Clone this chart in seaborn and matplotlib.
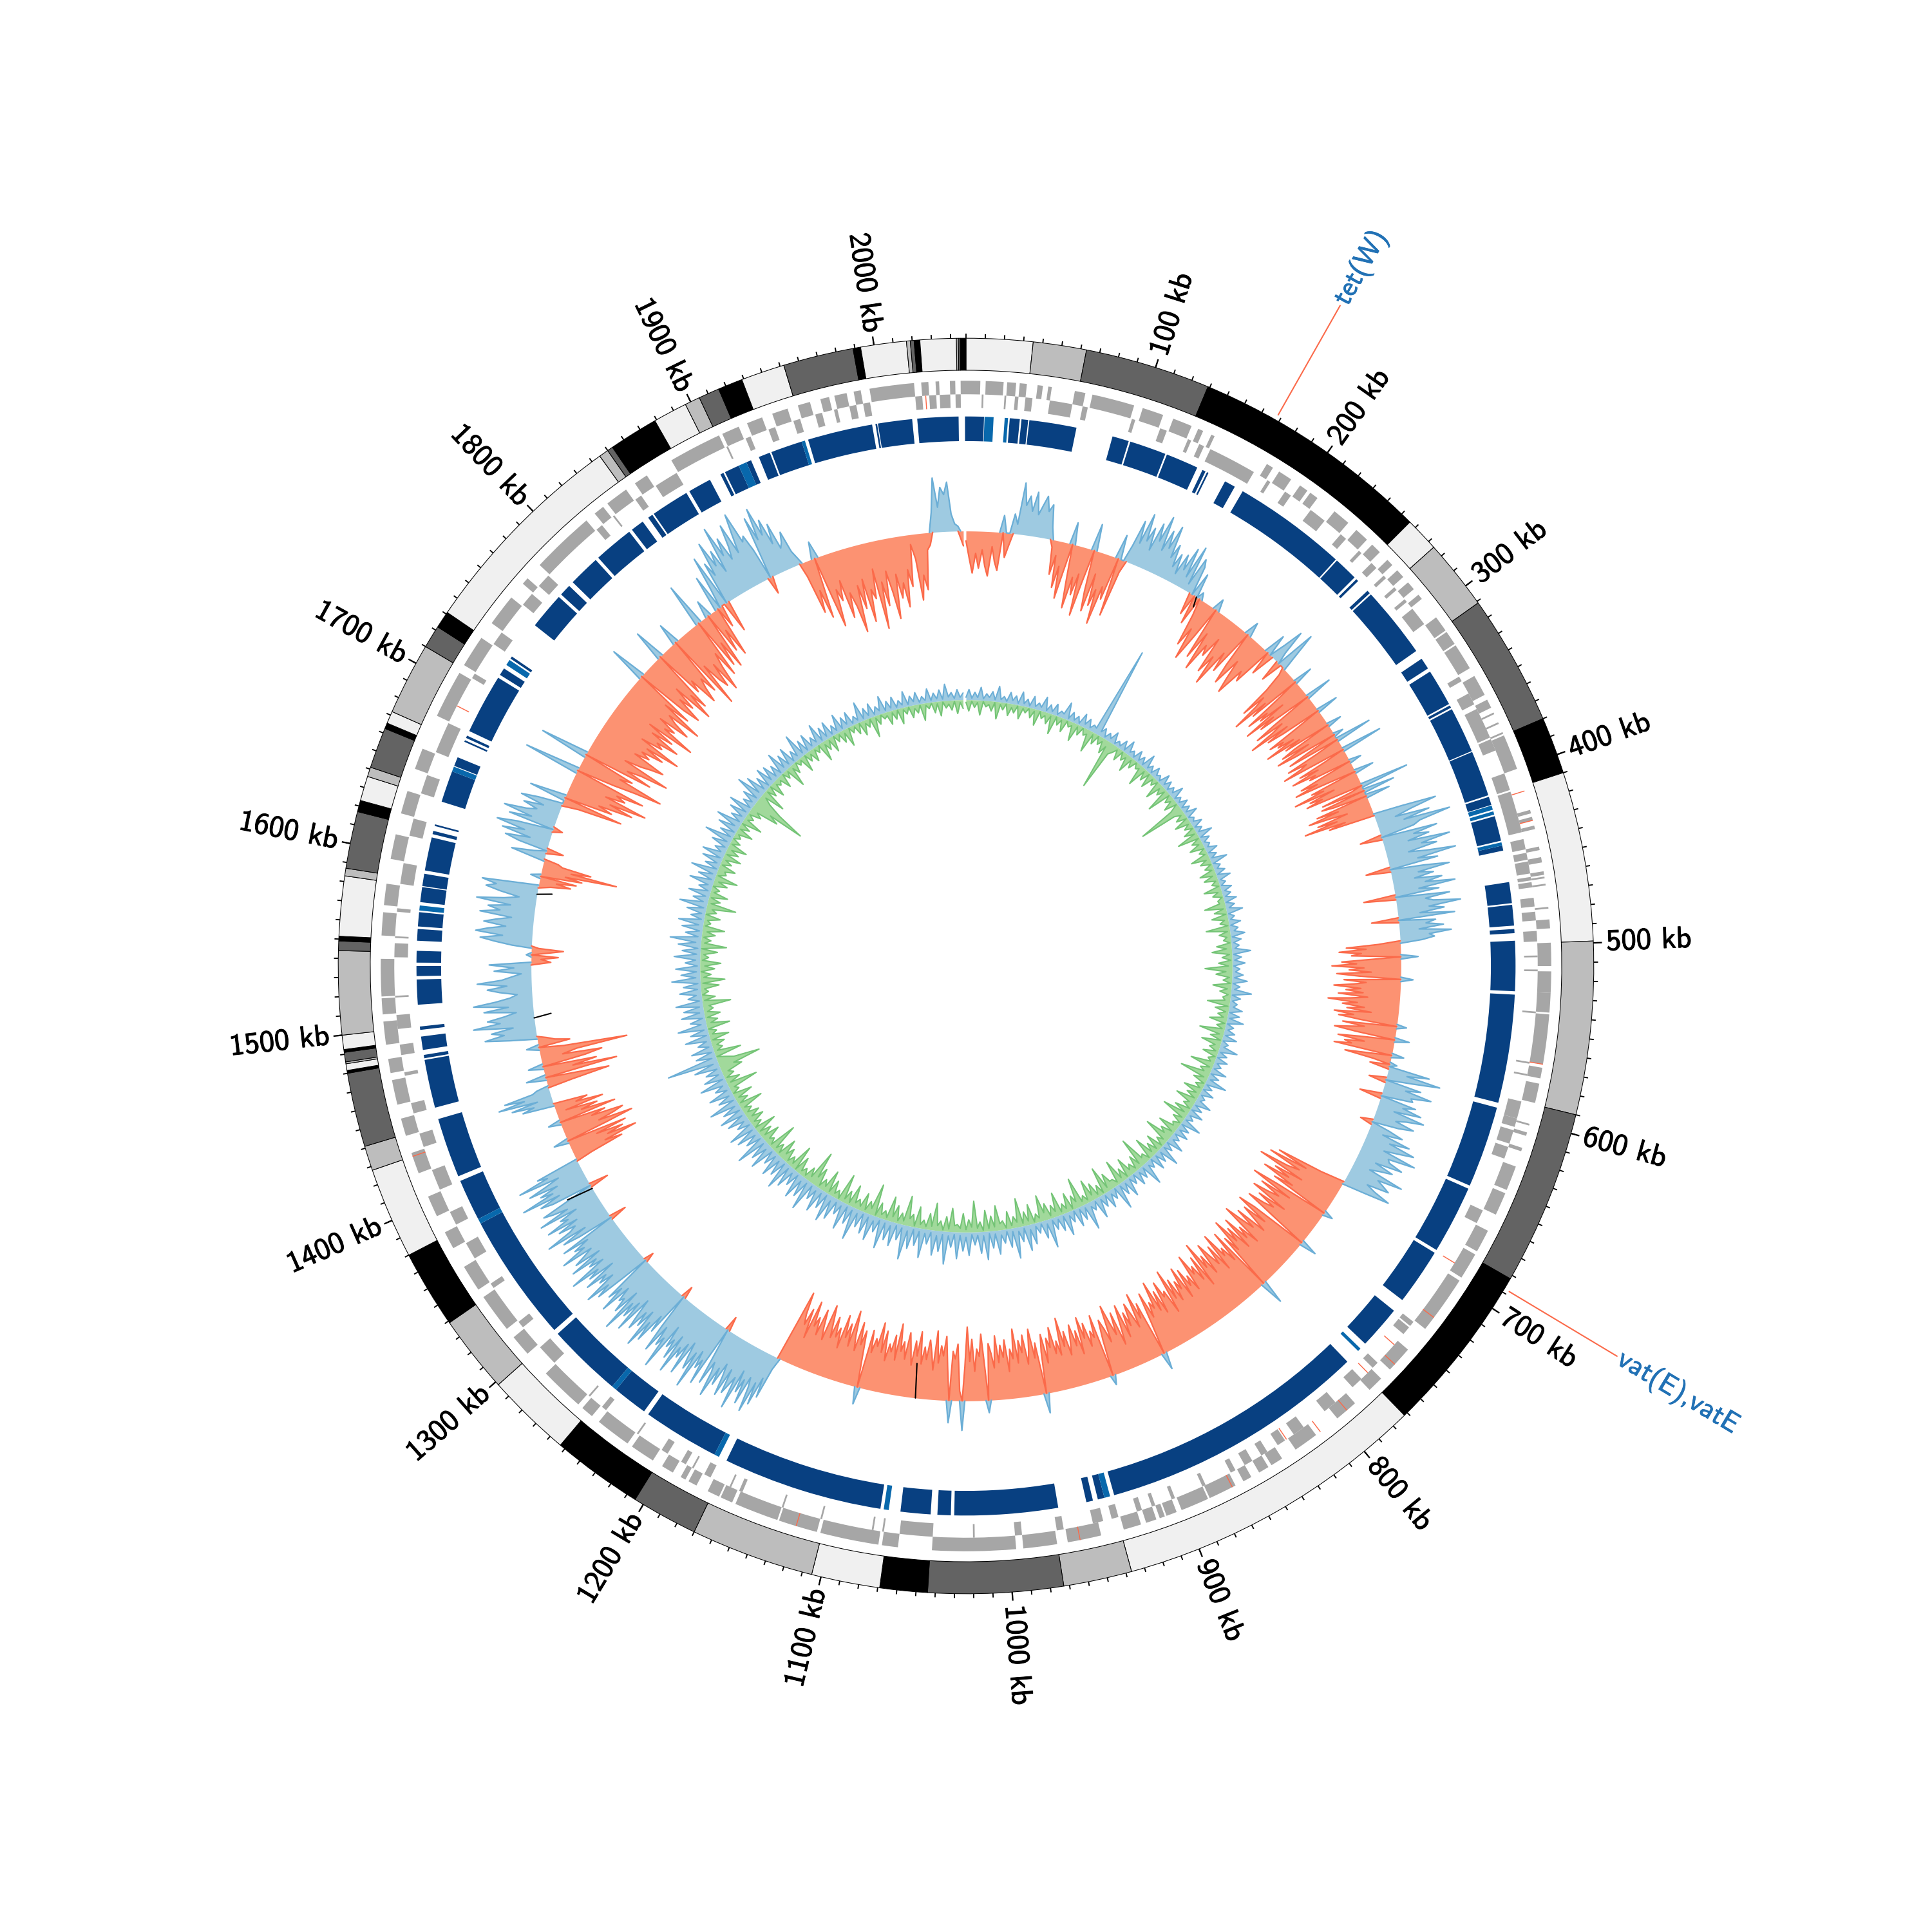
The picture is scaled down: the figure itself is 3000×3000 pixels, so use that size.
import numpy as np
import pandas as pd
import matplotlib
matplotlib.use("Agg")
import matplotlib.pyplot as plt
import matplotlib.patheffects as pe
import seaborn as sns

# genome length in kb, tracks read clockwise from the top
genome_kb = 2048
label_kb = [100, 200, 300, 400, 500, 600, 700, 800, 900, 1000, 1100, 1200, 1300, 1400, 1500, 1600, 1700, 1800, 1900, 2000]

# contig blocks: end of each block in kb and its grey level
contig_ends = [35, 63, 129, 256, 274, 311, 380, 410, 499, 590, 682, 772, 937, 973, 1044, 1069, 1105, 1170, 1205, 1253,
               1298, 1339, 1380, 1428, 1441, 1480, 1481.5, 1485, 1486, 1491, 1492.5, 1500, 1544, 1549, 1551.5, 1583, 1587, 1617, 1623,
               1636, 1641, 1662.5, 1665.5, 1672, 1710, 1722, 1731, 1845, 1850, 1853, 1879, 1897, 1905, 1916, 1929, 1952, 1989,
               1993, 2017, 2019, 2021, 2024, 2043, 2044, 2045, 2048]
contig_shade = [0, 1, 2, 3, 0, 1, 2, 3, 0, 1, 2, 3, 0, 1, 2, 3, 0, 1, 2, 3,
                0, 1, 3, 0, 1, 2, 3, 0, 1, 2, 3, 0, 1, 2, 3, 0, 1, 2, 3,
                0, 1, 2, 3, 0, 1, 2, 3, 0, 1, 2, 3, 0, 1, 2, 3, 0, 2,
                3, 0, 1, 2, 3, 0, 1, 2, 3]

# gene blocks in the two rows of the grey track
genes_outer = [(0, 8), (11, 21), (23, 28), (30, 34), (40, 43), (46, 48), (61, 67), (71, 95), (100, 112), (118, 129),
               (133, 136), (141, 143), (176, 180), (184, 192), (198, 203), (205, 210), (222, 232), (238, 246), (250, 256),
               (262, 266), (270, 275), (279, 284), (288, 291), (304, 313), (314, 322), (323, 338), (343, 355), (358, 363),
               (366, 367), (372, 373), (378, 379), (380, 400), (424, 426), (428, 430), (433, 435), (445, 447), (451, 454),
               (459, 461), (462, 463), (466, 467), (479, 480), (486, 491), (499, 512), (515, 527), (527, 538), (539, 567),
               (569, 575), (578, 589), (601, 602), (606, 608), (615, 617), (626, 640), (642, 655), (665, 678), (680, 695),
               (697, 730), (745, 760), (767, 776), (787, 800), (815, 829), (838, 845), (847, 853), (858, 863), (868, 884),
               (885, 901), (904, 910), (911, 914), (916, 922), (925, 935), (948, 967), (973, 992), (996, 1043), (1062, 1071),
               (1073, 1106), (1108, 1130), (1131, 1156), (1158, 1165), (1166, 1173), (1180, 1185), (1187, 1190), (1195, 1202),
               (1208, 1222), (1225, 1245), (1250, 1257), (1260, 1285), (1300, 1312), (1318, 1340), (1345, 1360), (1372, 1382),
               (1392, 1404), (1418, 1430), (1440, 1450), (1458, 1472), (1476, 1484), (1492, 1505), (1509, 1518), (1519, 1540),
               (1553, 1566), (1570, 1582), (1596, 1610), (1622, 1635), (1648, 1660), (1680, 1707), (1712, 1730), (1740, 1758),
               (1768, 1772), (1782, 1818), (1824, 1830), (1833, 1846), (1852, 1860), (1876, 1906), (1908, 1918), (1923, 1932),
               (1938, 1947), (1953, 1960), (1966, 1971), (1974, 1981), (1985, 1989), (1994, 2019), (2023, 2027), (2031, 2033),
               (2039, 2042), (2045, 2048)]
genes_inner = [(9, 10), (22, 23), (28, 30), (34, 38), (48, 61), (67, 70), (96, 98), (113, 117), (130, 132), (137, 140),
               (144, 172), (181, 183), (193, 197), (211, 221), (233, 237), (247, 249), (257, 261), (267, 269), (276, 278),
               (285, 287), (292, 303), (339, 342), (350, 357), (360, 378), (379, 386), (400, 410), (411, 435), (439, 445),
               (447, 451), (452, 459), (461, 463), (464, 467), (473, 478), (481, 486), (492, 498), (506, 507), (514, 515),
               (538, 539), (567, 568), (574, 575), (590, 600), (600, 605), (607, 615), (617, 624), (656, 664), (731, 734),
               (735, 740), (762, 766), (775, 782), (795, 803), (818, 825), (831, 836), (843, 847), (853, 858), (864, 867),
               (883, 885), (902, 904), (914, 916), (922, 925), (936, 940), (945, 951), (968, 972), (992, 996), (1019, 1020),
               (1043, 1062), (1071, 1072), (1077, 1078), (1107, 1108), (1130, 1131), (1155, 1157), (1162, 1163), (1175, 1179),
               (1186, 1187), (1191, 1194), (1203, 1207), (1223, 1224), (1246, 1249), (1258, 1259), (1286, 1298), (1313, 1317),
               (1341, 1344), (1361, 1371), (1383, 1391), (1405, 1417), (1431, 1439), (1451, 1457), (1473, 1475), (1485, 1491),
               (1500, 1508), (1518, 1519), (1541, 1549), (1552, 1553), (1567, 1569), (1583, 1595), (1611, 1621), (1636, 1647),
               (1661, 1679), (1708, 1711), (1731, 1739), (1759, 1767), (1773, 1781), (1819, 1823), (1831, 1832), (1847, 1851),
               (1861, 1875), (1907, 1908), (1919, 1922), (1933, 1937), (1948, 1952), (1961, 1965), (1972, 1974), (1981, 1985),
               (1989, 1993), (2019, 2023), (2027, 2031), (2033, 2039), (2042, 2045)]
genes_red_outer = [413, 430, 567, 722, 756, 793, 812, 870, 960, 1120, 1428]
genes_red_inner = [690, 748, 770, 830, 1690, 2025]

# dark blue track: segments in kb
blast_dark = [(0, 10.7), (26, 32), (33, 37), (37.7, 66), (88, 98), (99, 121), (122, 141.6), (145, 147), (148, 149), (160, 166.6),
              (172, 240.6), (241.5, 256), (257.5, 259), (267, 269), (270, 313), (318.6, 325.5), (327.7, 350), (351, 352.5), (353.5, 381),
              (381.6, 409), (410, 415), (422, 437), (440, 443), (462, 474.6), (475.6, 488), (490, 492.5), (497, 527), (529, 594),
              (597, 646), (648, 689), (691, 725), (733, 759), (774, 935), (941, 945), (948, 952), (969, 1031), (1033, 1041),
              (1045, 1063), (1075, 1171), (1179, 1225), (1228, 1249), (1252, 1297), (1300, 1377), (1380, 1405), (1408, 1444), (1451, 1480),
              (1481, 1483), (1486, 1494), (1498, 1500), (1513, 1528), (1530, 1536), (1538, 1545), (1551, 1558), (1559.5, 1568), (1574, 1583),
              (1583.6, 1591), (1593, 1613), (1615, 1617), (1620, 1621), (1635, 1654), (1657.5, 1663), (1673, 1674), (1675.5, 1677), (1680, 1716),
              (1718, 1722.5), (1729.5, 1731), (1754, 1776), (1778, 1785), (1788, 1807), (1809, 1833), (1835, 1843), (1847, 1850), (1851, 1874),
              (1876, 1890), (1897, 1899), (1900, 1909), (1914, 1917), (1922, 1929), (1930, 1949), (1953, 1992), (1994, 1995), (1995.5, 2016),
              (2019, 2043.6), (2047.4, 2048)]
blast_mid = [(11, 16.4), (23, 25), (415.4, 418), (419, 421), (438, 440), (763, 765), (937.5, 941), (1070, 1073), (1176, 1179), (1249, 1252),
             (1377, 1380), (1569, 1572), (1654, 1657), (1725, 1728.5), (1909, 1914), (1949, 1951)]

# GC content track: per region start, end and deviation from the ring (outward positive)
gc_regions_start = [0, 38, 66, 123, 176, 187, 255, 270, 397, 495, 588, 683, 1170, 1386, 1431, 1445, 1483, 1541, 1551, 1597, 1617, 1661, 1850, 1922, 2023, 2042]
gc_regions_end = [38, 66, 123, 176, 187, 255, 270, 397, 495, 588, 683, 1170, 1386, 1431, 1445, 1483, 1541, 1551, 1597, 1617, 1661, 1850, 1922, 2023, 2042, 2048]
gc_0 = [-8, -22, -34, -18, -30, -15, -28, -36, -12, -24, -31, 14, -20, -10, 16]
gc_1 = [8, 42, 24, 32, 20, 36, 18, 26, 34, 22, 28, 10]
gc_2 = [-6, -28, -12, -38, -20, -46, -24, 18, -30, -52, -26, -40, -22, -56, -28, 22, -34, -50, -18, -44, -30, -58, -26, -36, 20, -48, -10]
gc_3 = [14, 36, 18, 44, 22, 34, 16, 40, 26, 48, 20, 38, 24, 44, 18, 30, 12, 24, 8, 26, 14, 34, 10, 38, 6, 30]
gc_4 = [24, -18, 20, -24, 6]
gc_5 = [-14, -40, -24, -50, -30, 10, -44, -20, -52, -28, -36, -18, -48, -32, -56, -24, -40, 12, -30, -46, -22, -38, -50, -26, -34, 18, -20]
gc_6 = [14, 30, 10, -18, 34, 16, -6]
gc_7 = [-22, -48, -28, -38, -60, -30, -44, 16, -24, -52, -34, -42, -20, -58, -32, -46, -26, 22, -36, -54, -30, -40, -62, -28, -48, -34, 18, -24, -50, -38,
        -44, -30, -56, -26, -40, 12, -34, -46, -22, -52, -36, 8, -28, -44, 30, -20, -48, -32, -38, -54, 34, -18, -42, -26, -50, -30, -36, 10, -28, -46, -32, -52,
        -24, 16, -40, -30, -56, -22, -44, -34, -48, 40, -10, -36, 26, -38, -28, 20, -44, -26, -52, -34, -20, -46, -30, -58, -24, -38]
gc_8 = [24, 52, 30, 16, 44, 22, 60, 34, 28, -18, 46, 26, 38, 20, 54, 30, 42, 18, 32, 56, 24, 40, -20, 28, 48, 22, 34, 18, 40, 26, 50, 20, 36, -26, 44, 24, 30, 52,
        26, 38, 18, 46, -22, 30, 22, 36, 16, 42, 24, 28, 18]
gc_9 = [-18, -44, -28, -50, -32, -40, 14, -26, -48, -36, -56, -30, -42, -24, -52, -34, 10, -46, -28, -38, -54, -32, -44, -30, -50, -26, -40, -58, -34, -46, -28, -42,
        -22, -52, -36, -48, -30, 8, -44, -26, -38, -50, -32, 12, -28, -46, -24, -40, -34, -48, 10, -20, -38, -14, 6]
gc_10 = [-16, 34, 16, 44, 22, -14, 30, 18, 40, 24, 26, -18, 30, 20, 36, 14, 40, 26, 18, 34, 22, -10, 16, 28, 12, 36, 20, 42, 30, 18, 46, 24, 26, 38, 16, 32, 22, 14, 44, 24, 30, 36, 18, 26, 40, 20]
gc_11 = [-20, -58, -32, -64, -36, -46, -70, -30, -54, -40, -62, -34, -50, 8, -44, -66, -30, -56, -38, -48, -60, -28, -52, -36, -44, -58, -32, 14, -48, -62, -34, -54, -42, -30, -56, -38,
         -50, -64, -28, -46, -36, -58, -30, -52, -40, -62, -34, -48, 20, -56, -30, -44, -38, -60, -28, -52, -36, -46, -58, -32, -50, -40, -64, -26, -54, -34, -48, -42, -60, -30, -44, -36, -52,
         -28, -56, -38, -46, -30, -50, -34, -60, -24, -44, -40, -54, -28, -48, -32, -58, -36, -42, -30, -52, -26, 14, -46, -34, -56, -28, -40, -50, -32, -44, -24, -52, -36, -20, -48, -30, -42,
         -56, -26, -38, -46, -30, 8, -52, -34, -40, -28, -48, -36, -54, -24, -44, -32, -50, -38, -26, -46, -34, -58, -28, -40, -30, -52, -36, -44, -24, -48, -34, 16, -42, -30, -54, -38, -26, -50,
         -36, -46, -28, -56, -32, -40, -22, -48, -34, -44, -30, -52, -26, -38, -46, 10, -30, -54, -36, -42, -24, -50, -32, -60, -28, 24, -8, -46, -34, -40, 18, -26, -52, -36, -44, -30, -56, -24,
         -38, -48, -32, -42, -28, -54, -34, -46, -26, -40, -52, -30, -44, -36, -58, -28, -48, -34, -40, -26, -50, -32, -56, -36, -42, -30, -48, 14, -24, -46, -34, -52, -28, -40, -60, -30, -48, -36,
         -54, -26, -42, -34, -50, -32, -46, -58, -28, -38, -52, -30, -44, -36, -56, -24, -48, -34, -42, -60, -32]
gc_12 = [10, 36, 20, 44, 26, 52, 32, 24, 48, 28, 40, 22, 56, 30, 38, 46, 26, 50, 34, 24, 44, 30, 56, 36, 28, 48, 22, -12, 52, 32, 40, 26, 60, 30, 46, 36, 24, 54, 28, 42, 34, 58, 26, 48, 32, 40, 22, 62, 36, 44, 28,
         52, 30, -10, 38, 24, 50, 34, 58, 26, 42, 30, 48, 36, 22, 54, 28, 44, 32, 60, 24, 46, 34, 38, 26, 52, 30, 42, -8, 24, 48, 36, 56, 28, 40, 32, 50, 22, 44, 34, 58, 26, 38, 30, 52, 24, 46, 36, 28, 54, 32, 40, 26, 48,
         -14, 30, 44, 22, 56, 34, 28, 42, 24, 50, 30, 36, 20, 52, 26, 38, 46, 22, -16, 34, 44, 26, 58, 30, 40, 24, 48, 32, 20, 54, 28, 36]
gc_13 = [-14, -42, -28, -56, -32, -46, -24, -50, 12, -36, -58, -30, -44, -52, -26, -38, 10, -48, -20, -34, -8, -40, -18, -28]
gc_14 = [26, 16, 34, 12, 44, 22, 38, 14, 10]
gc_15 = [-20, -52, -28, 16, -60, -24, -44, 12, -36, -50, -18, -30, -72, -20, 10, -26, -14, -8]
gc_16 = [22, 42, 26, 36, 18, 50, 28, 38, 24, 14, 40, 20, 48, 30, 18, 12, 26, 36, 20, 44, 24, 16, 8, 30, 14, 34, -16]
gc_17 = [-8, -22, 4, -14, -26, -6]
gc_18 = [16, 30, 42, 24, 46, 36, 22, 40, 30, 18, 44, 28, 38, 20, 48, 26, 14, 30, 42, 34, 46]
gc_19 = [-10, -26, -14, -30, 8, -34, -20, -62, -24, -40, -16, -12]
gc_20 = [12, 28, 10, -14, 24, 36, 16, 40, 22, 46, 30, -8, 38, 20, 44, 26, 18, 30, 14, 34, 20]
gc_21 = [-14, -50, 30, -40, -28, -56, -36, -66, -30, -46, -38, -60, 46, -32, -50, -72, -34, -44, 40, -58, -36, -48, -70, -30, -44, -52, -62, -34, -46, -38, -56, -40, -68, -32, -50, -44, -62, -36, -54, -30, -70, -42, -50,
         -34, -60, -46, -38, -66, -30, -52, 30, -44, -58, -36, -48, -28, -62, -40, -54, 26, -42, -32, -56, -44, -36, -50, 18, -66, -30, -46, -54, -34, -60, -40, -28, -50, 36, -44, -24, -48, 14, -36, -18, -42]
gc_22 = [30, -18, 18, 44, -26, 36, 24, 52, 30, 42, 22, 60, 34, 48, 28, 38, 56, 30, 46, 62, 36, 40, 26, -14, 52, 32, 58, 34, 46, 24, 40, 18, 22, 30, 12, 6]
gc_23 = [-12, -44, -26, -50, 14, -34, -60, -30, -40, -24, -56, -36, -48, -70, -32, -52, -28, -64, -38, -46, -22, -72, -34, -54, -26, -44, -66, -30, -50, -38, -58, -28, -42, -8, -20, -54, -34, -46, -14, -10]
gc_24 = [16, 44, 20, 36, 30, 40, 14, 6]
gc_25 = [4, -6, -12]
gc_regions = [gc_0, gc_1, gc_2, gc_3, gc_4, gc_5, gc_6, gc_7, gc_8, gc_9, gc_10, gc_11, gc_12, gc_13, gc_14, gc_15, gc_16, gc_17, gc_18, gc_19, gc_20, gc_21, gc_22, gc_23, gc_24, gc_25]
gc_black_kb = [182, 1062, 1361, 1497, 1590]
gc_black_value = [-8, -28, 22, -14, -12]

# GC skew track, equally spaced around the genome: outward series and inward series
skew_out = [3, 12, 2, 9, 3, 15, 2, 8, 4, 11, 2, 18, 3, 7, 2, 13, 4, 10, 2, 16, 3, 9, 2, 14,
            3, 8, 4, 17, 2, 10, 3, 13, 2, 7, 5, 20, 2, 11, 3, 9, 2, 15, 4, 12, 3, 8, 6, 108,
            5, 11, 2, 9, 4, 14, 2, 7, 3, 12, 2, 16, 4, 8, 2, 13, 3, 10, 2, 18, 3, 9, 2, 12,
            4, 7, 2, 14, 3, 11, 2, 9, 4, 16, 2, 8, 3, 12, 2, 10, 3, 15, 2, 7, 4, 13, 2, 9,
            3, 18, 2, 11, 3, 8, 4, 14, 2, 10, 3, 20, 2, 9, 4, 12, 2, 16, 3, 8, 2, 13, 4, 10,
            3, 15, 2, 11, 4, 19, 2, 8, 3, 14, 2, 10, 5, 17, 2, 12, 3, 9, 4, 22, 2, 11, 3, 15,
            2, 9, 4, 13, 3, 18, 2, 10, 4, 24, 2, 12, 3, 9, 5, 16, 2, 14, 3, 20, 2, 10, 4, 13,
            3, 17, 2, 9, 5, 22, 3, 12, 2, 15, 4, 10, 3, 19, 2, 13, 4, 25, 3, 11, 2, 16, 3, 9,
            5, 20, 3, 13, 2, 18, 4, 10, 3, 24, 2, 14, 4, 17, 3, 11, 5, 21, 2, 12, 3, 26, 4, 15,
            3, 19, 2, 11, 5, 28, 3, 14, 4, 18, 2, 12, 3, 23, 4, 16, 3, 30, 2, 13, 5, 20, 3, 15,
            4, 25, 3, 12, 6, 32, 4, 17, 3, 22, 2, 14, 5, 27, 3, 19, 4, 15, 3, 34, 5, 21, 3, 13,
            4, 24, 6, 30, 3, 18, 5, 36, 4, 22, 3, 16, 6, 28, 4, 20, 3, 33, 5, 25, 4, 15, 3, 27,
            6, 22, 4, 31, 3, 18, 5, 38, 4, 24, 6, 29, 3, 17, 5, 34, 4, 21, 3, 26, 6, 40, 4, 19,
            3, 28, 5, 23, 4, 35, 3, 18, 6, 30, 4, 25, 3, 20, 5, 38, 4, 22, 3, 32, 5, 17, 4, 27,
            6, 33, 3, 21, 4, 29, 5, 18, 3, 36, 4, 24, 6, 30, 3, 19, 5, 26, 4, 34, 3, 22, 5, 28,
            4, 18, 3, 31, 6, 24, 4, 38, 3, 20, 5, 27, 4, 32, 3, 17, 6, 25, 4, 30, 3, 22, 5, 35,
            3, 20, 5, 28, 4, 17, 6, 32, 3, 24, 5, 19, 4, 30, 6, 60, 5, 23, 3, 26, 4, 16, 5, 29,
            3, 21, 4, 34, 6, 18, 3, 27, 5, 23, 4, 31, 3, 16, 6, 25, 4, 20, 3, 33, 5, 22, 4, 28,
            3, 17, 5, 30, 4, 21, 3, 26, 6, 36, 4, 19, 3, 24, 5, 29, 3, 16, 4, 22, 3, 32, 5, 18,
            4, 25, 3, 15, 5, 28, 3, 20, 4, 31, 2, 17, 4, 23, 3, 26, 5, 14, 3, 21, 4, 33, 3, 18,
            2, 24, 5, 30, 3, 16, 4, 22, 3, 27, 2, 14, 4, 19, 3, 32, 5, 25, 3, 17, 2, 23, 4, 20,
            3, 15, 2, 26, 4, 18, 3, 22, 2, 13, 4, 29, 3, 17, 2, 20, 3, 12, 4, 24, 2, 16, 3, 19,
            2, 11, 3, 21, 2, 14, 4, 17, 2, 9, 3, 23, 2, 13, 3, 16, 2, 10, 4, 20, 2, 12, 3, 15,
            2, 9, 3, 18, 2, 11, 4, 14, 2, 8, 3, 16, 2, 10, 3, 13, 2, 19, 4, 9, 2, 12, 3, 8]
skew_in = [-2, -9, -1, -6, -2, -12, -1, -5, -3, -8, -1, -14, -2, -6, -1, -10, -3, -7, -1, -11, -2, -5, -1, -8,
           -2, -13, -1, -6, -3, -9, -2, -16, -1, -7, -2, -11, -1, -5, -3, -15, -2, -8, -1, -6, -4, -18, -2, -9,
           -1, -7, -3, -12, -5, -41, -9, -6, -2, -10, -1, -7, -3, -14, -2, -8, -1, -5, -3, -17, -2, -9, -1, -12,
           -2, -6, -1, -15, -3, -8, -2, -20, -1, -7, -3, -11, -1, -8, -38, -8, -3, -9, -1, -13, -2, -7, -1, -10,
           -2, -18, -1, -8, -3, -12, -1, -6, -2, -15, -3, -9, -1, -7, -2, -13, -3, -11, -2, -6, -1, -14, -3, -8,
           -1, -5, -4, -17, -2, -10, -1, -13, -3, -7, -1, -19, -2, -9, -3, -6, -1, -12, -4, -16, -2, -8, -1, -11,
           -3, -22, -5, -13, -2, -7, -1, -15, -3, -9, -2, -6, -4, -18, -1, -11, -2, -8, -3, -14, -1, -7, -2, -20,
           -3, -10, -1, -16, -4, -8, -2, -12, -1, -6, -3, -19, -2, -9, -5, -24, -3, -11, -1, -7, -2, -15, -3, -10,
           -2, -17, -4, -8, -1, -13, -3, -21, -2, -9, -1, -6, -4, -16, -2, -11, -6, -22, -3, -8, -1, -14, -2, -10,
           -3, -18, -1, -7, -5, -25, -3, -12, -2, -8, -4, -16, -1, -10, -3, -20, -2, -6, -6, -14, -3, -22, -1, -9,
           -2, -13, -4, -18, -2, -7, -3, -24, -5, -11, -1, -15, -3, -8, -2, -19, -4, -10, -2, -13, -6, -21, -3, -7,
           -1, -16, -3, -11, -2, -23, -4, -9, -2, -14, -1, -7, -5, -20, -3, -12, -2, -17, -1, -8, -3, -25, -4, -10,
           -2, -15, -3, -6, -5, -19, -2, -12, -1, -8, -4, -22, -3, -13, -2, -7, -3, -17, -1, -10, -6, -24, -3, -9,
           -2, -14, -4, -20, -2, -7, -3, -12, -1, -26, -5, -10, -2, -15, -3, -8, -4, -18, -2, -11, -3, -23, -1, -7,
           -3, -13, -2, -19, -4, -9, -2, -16, -7, -28, -4, -11, -2, -7, -3, -14, -1, -21, -3, -8, -2, -12, -5, -17,
           -2, -9, -3, -24, -2, -7, -4, -15, -3, -11, -2, -18, -1, -8, -3, -13, -4, -12, -3, -8, -3, -20, -2, -10,
           -3, -16, -1, -7, -4, -25, -3, -12, -2, -9, -5, -18, -12, -35, -14, -8, -1, -22, -3, -8, -4, -11, -2, -16,
           -3, -7, -1, -19, -4, -10, -2, -13, -3, -8, -5, -23, -2, -11, -1, -6, -3, -15, -2, -20, -3, -9, -1, -12,
           -4, -17, -2, -7, -3, -14, -1, -21, -3, -8, -2, -11, -4, -18, -2, -6, -3, -13, -1, -9, -5, -24, -3, -10,
           -2, -15, -3, -7, -1, -12, -4, -19, -2, -8, -6, -14, -2, -9, -3, -15, -2, -11, -4, -16, -2, -8, -1, -6,
           -3, -14, -2, -9, -1, -17, -3, -7, -2, -11, -6, -24, -16, -45, -22, -10, -4, -20, -2, -9, -1, -13, -3, -6,
           -3, -12, -1, -7, -2, -18, -3, -9, -1, -5, -2, -14, -1, -8, -3, -11, -2, -6, -1, -16, -3, -9, -2, -13,
           -1, -7, -2, -10, -3, -15, -1, -6, -2, -9, -1, -12, -3, -7, -1, -17, -2, -8, -1, -5, -3, -11, -2, -8,
           -1, -13, -2, -6, -1, -10, -3, -7, -1, -14, -2, -5, -1, -9, -2, -12, -1, -6, -3, -8, -1, -11, -2, -7]
skew_out_scale = 0.7

palette_grey = ["#f0f0f0", "#bdbdbd", "#636363", "#000000"]
gene_grey = "#a6a6a6"
dark_blue = "#084081"
mid_blue = "#0868ac"
red_line = "#fb6a4a"
red_fill = "#fc9272"
blue_line = "#6baed6"
blue_fill = "#9ecae1"
green_line = "#74c476"
green_fill = "#a1d99b"
label_blue = "#2171b5"

sns.set_theme(style="white")
plt.rcParams['font.family'] = ['cmss10', 'DejaVu Sans']
plt.rcParams['axes.unicode_minus'] = False


def to_theta(kb):
    return np.asarray(kb, dtype=float) / genome_kb * 2 * np.pi


def arc_bars(ax, spans, r_in, r_out, color):
    starts = np.array([s[0] for s in spans])
    ends = np.array([s[1] for s in spans])
    ax.bar(to_theta((starts + ends) / 2), r_out - r_in, width=to_theta(ends - starts), bottom=r_in, color=color, linewidth=0)


def signal_track(ax, kb, values, base, line_col_pos, fill_pos, line_col_neg, fill_neg, lw=0.55):
    theta = to_theta(kb)
    values = np.asarray(values, dtype=float)
    pos = np.clip(values, 0, None)
    neg = np.clip(values, None, 0)
    ax.fill_between(theta, base, base + pos, color=fill_pos, linewidth=0)
    ax.fill_between(theta, base, base + neg, color=fill_neg, linewidth=0)
    for part, col in ((pos, line_col_pos), (neg, line_col_neg)):
        keep = part != 0
        if not keep.any():
            continue
        keep = keep | np.roll(keep, 1) | np.roll(keep, -1)
        run = np.cumsum(~keep)
        df = pd.DataFrame({"theta": theta[keep], "r": base + part[keep], "run": run[keep]})
        sns.lineplot(data=df, x="theta", y="r", units="run", estimator=None, sort=False, color=col, lw=lw, ax=ax, legend=False)


fig = plt.figure(figsize=(10, 10), dpi=300)
ax = fig.add_axes([0, 0, 1, 1], projection="polar")
ax.set_theta_zero_location("N")
ax.set_theta_direction(-1)

# outer contig ring
starts = np.r_[0, contig_ends[:-1]]
ends = np.array(contig_ends)
ax.bar(to_theta((starts + ends) / 2), 26, width=to_theta(ends - starts), bottom=483.5,
       color=[palette_grey[i] for i in contig_shade], edgecolor="black", linewidth=0.25)

# scale ticks
minor = np.arange(0, genome_kb, 10)
ax.vlines(to_theta(minor), 509.5, 513, color="black", lw=0.45)
ax.vlines(to_theta(label_kb), 509.5, 516.5, color="black", lw=0.55)
bolder = [pe.withStroke(linewidth=0.25, foreground="black")]
for kb in label_kb:
    deg = kb / genome_kb * 360
    right = deg < 180
    ax.text(to_theta(kb), 520, f"{kb} kb", rotation=(90 - deg) if right else (270 - deg), rotation_mode="anchor",
            ha="left" if right else "right", va="center", fontsize=11.2, color="black", path_effects=bolder)

# grey genes
arc_bars(ax, genes_outer, 464, 475, gene_grey)
arc_bars(ax, genes_inner, 453, 464, gene_grey)
ax.vlines(to_theta(genes_red_outer), 464, 475, color=red_line, lw=0.35)
ax.vlines(to_theta(genes_red_inner), 453, 464, color=red_line, lw=0.35)

# blue blocks
arc_bars(ax, blast_dark, 426, 446, dark_blue)
arc_bars(ax, blast_mid, 426, 446, mid_blue)

# GC content
gc_kb = np.concatenate([np.linspace(s, e, len(v), endpoint=False) for s, e, v in zip(gc_regions_start, gc_regions_end, gc_regions)])
gc_val = np.concatenate(gc_regions)
signal_track(ax, gc_kb, gc_val, 353, blue_line, blue_fill, red_line, red_fill)
for kb, v in zip(gc_black_kb, gc_black_value):
    ax.plot(to_theta([kb, kb + 2]), [353, 353 + v], color="black", lw=0.5)

# GC skew, outward and inward series
out_kb = np.linspace(0, genome_kb, len(skew_out), endpoint=False)
in_kb = np.linspace(0, genome_kb, len(skew_in), endpoint=False)
signal_track(ax, out_kb, np.array(skew_out) * skew_out_scale, 216, blue_line, blue_fill, green_line, green_fill, lw=0.5)
signal_track(ax, in_kb, skew_in, 216, blue_line, blue_fill, green_line, green_fill, lw=0.5)

# resistance genes
for kb, text in ((168, "tet(W)"), (688, "vat(E),vatE")):
    deg = kb / genome_kb * 360
    ax.plot(to_theta([kb, kb]), [514, 616], color=red_line, lw=0.5)
    ax.text(to_theta(kb), 618, text, rotation=90 - deg, rotation_mode="anchor", ha="left", va="center", color=label_blue,
            fontsize=10.5, path_effects=[pe.withStroke(linewidth=0.2, foreground=label_blue)])

ax.set_rlim(0, 784)
ax.set_xlabel("")
ax.set_ylabel("")
ax.set_axis_off()
fig.savefig("out.png", dpi=300)
